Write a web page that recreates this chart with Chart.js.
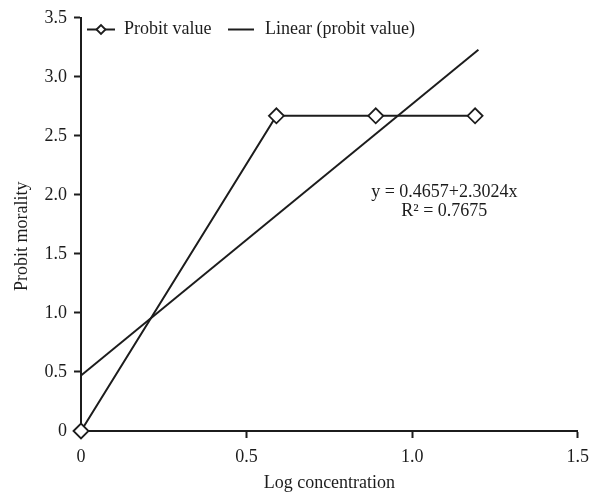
<!DOCTYPE html>
<html>
<head>
<meta charset="utf-8">
<script src="https://cdn.jsdelivr.net/npm/chart.js@4.4.0/dist/chart.umd.min.js"></script>
<style>
  html, body { margin: 0; padding: 0; background: #ffffff; }
  #wrap { width: 597px; height: 496px; position: relative; }
</style>
</head>
<body>
<div id="wrap"><canvas id="c" width="597" height="496"></canvas></div>
<script>
// Data
const logConcentration = [0, 0.59, 0.89, 1.19];
const probitValue = [0, 2.67, 2.67, 2.67];
const trendX = [0, 1.2];
const trendY = [0.47, 3.23];
const xTicks = [0, 0.5, 1.0, 1.5];
const yTicks = [0, 0.5, 1.0, 1.5, 2.0, 2.5, 3.0, 3.5];
const seriesNames = ["Probit value", "Linear (probit value)"];
const equationLines = ["y = 0.4657+2.3024x", "R\u00B2 = 0.7675"];
const axisTitles = { x: "Log concentration", y: "Probit morality" };

const FONT = "'Liberation Serif', 'Times New Roman', serif";
const INK = "#1c1c1c";

const fmt = v => (v === 0 ? "0" : Number(v).toFixed(1));

const overlay = {
  id: "overlay",
  afterDraw(chart) {
    const ctx = chart.ctx;
    const xs = chart.scales.x, ys = chart.scales.y;
    ctx.save();
    ctx.font = "18px " + FONT;
    ctx.fillStyle = INK;
    ctx.strokeStyle = INK;
    ctx.lineWidth = 2;
    // legend
    const ly = 29.5;
    ctx.beginPath(); ctx.moveTo(87, ly); ctx.lineTo(115, ly); ctx.stroke();
    ctx.beginPath();
    const cx = 101, r = 4.5;
    ctx.moveTo(cx - r, ly); ctx.lineTo(cx, ly - r); ctx.lineTo(cx + r, ly); ctx.lineTo(cx, ly + r); ctx.closePath();
    ctx.fillStyle = "#fff"; ctx.fill(); ctx.lineWidth = 1.8; ctx.stroke();
    ctx.fillStyle = INK;
    ctx.textBaseline = "middle";
    ctx.textAlign = "left";
    ctx.fillText(seriesNames[0], 124, ly);
    ctx.lineWidth = 2;
    ctx.beginPath(); ctx.moveTo(228, ly); ctx.lineTo(254, ly); ctx.stroke();
    ctx.fillText(seriesNames[1], 265, ly);
    // equation
    ctx.textAlign = "center";
    ctx.textBaseline = "alphabetic";
    const ex = xs.getPixelForValue(1.097);
    const ey = ys.getPixelForValue(1.98);
    ctx.fillText(equationLines[0], ex, ey);
    ctx.fillText(equationLines[1], ex, ey + 19);
    // y axis title
    ctx.save();
    ctx.translate(22, ys.getPixelForValue(1.65));
    ctx.rotate(-Math.PI / 2);
    ctx.textAlign = "center";
    ctx.textBaseline = "middle";
    ctx.fillText(axisTitles.y, 0, 0);
    ctx.restore();
    ctx.restore();
  }
};

new Chart(document.getElementById("c"), {
  type: "scatter",
  data: {
    datasets: [
      {
        label: seriesNames[0],
        data: logConcentration.map((x, i) => ({ x, y: probitValue[i] })),
        showLine: true,
        borderColor: INK,
        borderWidth: 2,
        pointStyle: "rectRot",
        pointRadius: 7.5,
        pointHoverRadius: 7.5,
        pointBackgroundColor: "#ffffff",
        pointBorderColor: INK,
        pointBorderWidth: 1.8,
        clip: false,
        order: 0
      },
      {
        label: seriesNames[1],
        data: trendX.map((x, i) => ({ x, y: trendY[i] })),
        showLine: true,
        borderColor: INK,
        borderWidth: 2,
        pointRadius: 0,
        pointHoverRadius: 0,
        order: 1
      }
    ]
  },
  options: {
    responsive: false,
    animation: false,
    events: [],
    layout: { padding: { top: 16, right: 19, left: 0, bottom: 0 } },
    plugins: { legend: { display: false }, tooltip: { enabled: false } },
    scales: {
      x: {
        type: "linear",
        min: 0, max: 1.5,
        afterBuildTicks: s => { s.ticks = xTicks.map(v => ({ value: v })); },
        afterFit: s => { s.height = 65; },
        grid: { drawOnChartArea: false, drawTicks: true, tickLength: 7, tickColor: INK, tickWidth: 2 },
        border: { display: true, color: INK, width: 2 },
        ticks: { color: INK, font: { family: FONT, size: 18 }, padding: 8, callback: fmt, maxRotation: 0 },
        title: { display: true, text: axisTitles.x, color: INK, font: { family: FONT, size: 18 }, padding: { top: 0, bottom: 2 } }
      },
      y: {
        type: "linear",
        min: 0, max: 3.5,
        afterBuildTicks: s => { s.ticks = yTicks.map(v => ({ value: v })); },
        afterFit: s => { s.width = 81; },
        grid: { drawOnChartArea: false, drawTicks: true, tickLength: 7, tickColor: INK, tickWidth: 2 },
        border: { display: true, color: INK, width: 2 },
        ticks: { color: INK, font: { family: FONT, size: 18 }, padding: 7, callback: fmt },
        title: { display: false }
      }
    }
  },
  plugins: [overlay]
});
</script>
</body>
</html>
